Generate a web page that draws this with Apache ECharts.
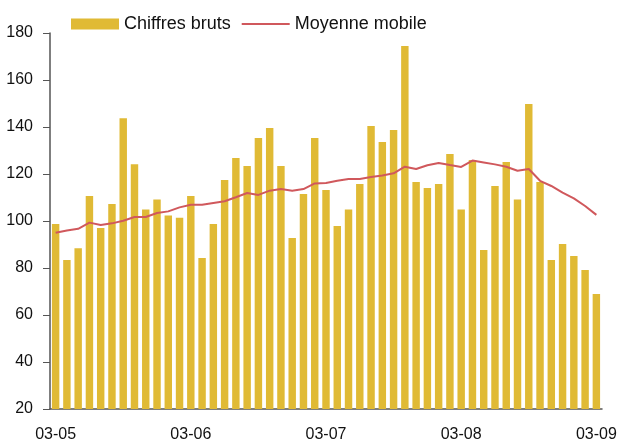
<!DOCTYPE html>
<html>
<head>
<meta charset="UTF-8">
<title></title>
<script src="https://cdn.jsdelivr.net/npm/echarts@6/dist/echarts.min.js"></script>
<style>
  html, body { margin: 0; padding: 0; background: #fff; }
</style>
</head>
<body>
<div id="chart" style="width: 620px; height: 443px;"></div>
<script type="text/javascript">
// mois (MM-AA), de mars 2005 à mars 2009
var mois = [
  '03-05','04-05','05-05','06-05','07-05','08-05','09-05','10-05','11-05','12-05','01-06','02-06',
  '03-06','04-06','05-06','06-06','07-06','08-06','09-06','10-06','11-06','12-06','01-07','02-07',
  '03-07','04-07','05-07','06-07','07-07','08-07','09-07','10-07','11-07','12-07','01-08','02-08',
  '03-08','04-08','05-08','06-08','07-08','08-08','09-08','10-08','11-08','12-08','01-09','02-09',
  '03-09'
];
var chiffresBruts = [
  98.7, 83.4, 88.4, 110.6, 97.0, 107.2, 143.7, 124.1, 104.9, 109.1, 102.3, 101.4,
  110.6, 84.3, 98.7, 117.4, 126.8, 123.4, 135.3, 139.6, 123.4, 92.8, 111.5, 135.3,
  113.2, 97.9, 104.9, 115.7, 140.4, 133.6, 138.7, 174.5, 116.6, 114.0, 115.7, 128.5,
  104.9, 126.0, 87.7, 114.9, 125.1, 109.1, 149.8, 116.6, 83.4, 90.2, 85.1, 79.1,
  68.9
];
var moyenneMobile = [
  95.0, 96.0, 96.7, 99.3, 98.3, 99.0, 100.1, 101.7, 101.7, 103.4, 104.1, 105.8,
  106.9, 106.9, 107.7, 108.4, 110.1, 111.9, 111.1, 112.9, 113.6, 112.9, 113.6, 116.0,
  116.2, 117.1, 117.9, 117.9, 118.7, 119.4, 120.3, 123.1, 122.1, 123.7, 124.7, 123.8,
  123.0, 125.7, 124.9, 124.1, 123.1, 121.4, 122.1, 117.1, 114.9, 112.1, 109.6, 106.4,
  102.6
];

var police = 'Liberation Sans, Arial, sans-serif';
var myChart = echarts.init(document.getElementById('chart'));
myChart.setOption({
  animation: false,
  textStyle: { fontFamily: police },
  legend: {
    left: 71,
    top: 15,
    padding: 0,
    itemWidth: 48,
    itemHeight: 11,
    itemGap: 11,
    symbolKeepAspect: true,
    textStyle: { fontSize: 18, color: '#111', fontFamily: police },
    data: [
      { name: 'Chiffres bruts', icon: 'rect' },
      // trait simple, sans symbole
      { name: 'Moyenne mobile', icon: 'path://M0,0 L48,0 L48,2 L0,2 Z' }
    ]
  },
  grid: { left: 50, right: 18, top: 33, bottom: 34, containLabel: false },
  xAxis: {
    type: 'category',
    data: mois,
    boundaryGap: true,
    axisLine: { lineStyle: { color: '#555', width: 1.5 } },
    axisTick: { interval: 11, length: 6, lineStyle: { color: '#555' } },
    axisLabel: { interval: 11, margin: 18, fontSize: 16, color: '#111' }
  },
  yAxis: {
    type: 'value',
    min: 20,
    max: 180,
    interval: 20,
    splitLine: { show: false },
    axisLine: { show: true, lineStyle: { color: '#555', width: 1.5 } },
    axisTick: { show: true, length: 7, lineStyle: { color: '#555' } },
    axisLabel: { margin: 17, fontSize: 16, color: '#111' }
  },
  series: [{
    name: 'Chiffres bruts',
    type: 'bar',
    data: chiffresBruts,
    barWidth: '66%',
    itemStyle: { color: '#E0BA35' }
  }, {
    name: 'Moyenne mobile',
    type: 'line',
    data: moyenneMobile,
    symbol: 'none',
    lineStyle: { color: '#D0585C', width: 2 },
    itemStyle: { color: '#D0585C' }
  }]
});
</script>
</body>
</html>
